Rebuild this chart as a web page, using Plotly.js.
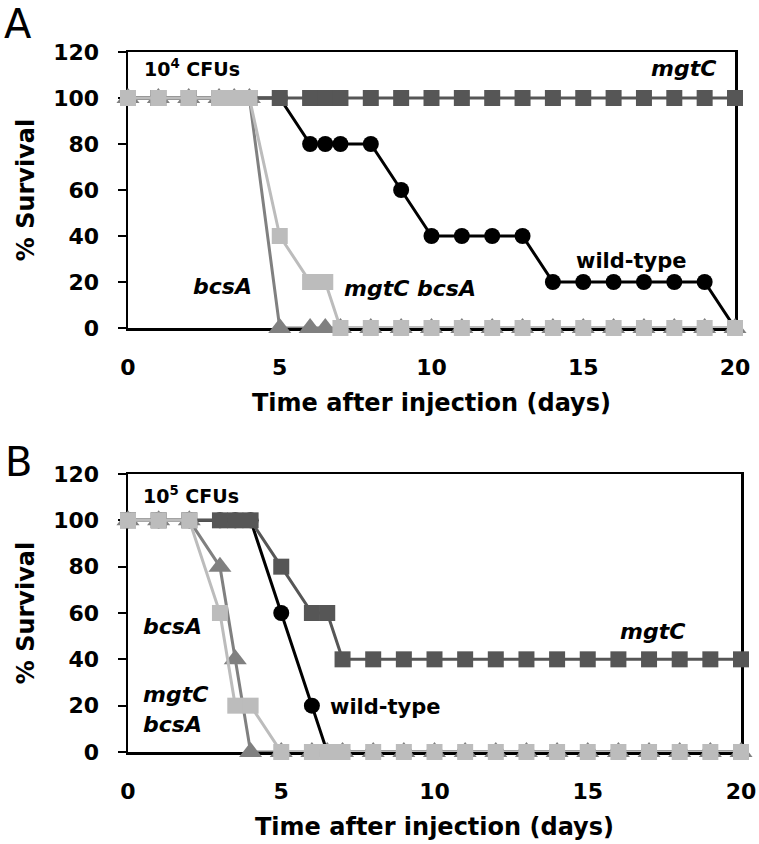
<!DOCTYPE html>
<html>
<head>
<meta charset="utf-8">
<script src="https://cdn.plot.ly/plotly-3.0.1.min.js"></script>
<style>html,body{margin:0;padding:0;background:#fff;}#chart{width:759px;height:844px;}</style>
</head>
<body>
<div id="chart"></div>
<script>
// ---------- DATA ----------
// Panel A (10^4 CFUs)
const daysA = [0,1,2,3,3.5,4,5,6,6.5,7,8,9,10,11,12,13,14,15,16,17,18,19,20];
const wildTypeA  = [100,100,100,100,100,100,100,80,80,80,80,60,40,40,40,40,20,20,20,20,20,20,0];
const mgtCA      = [100,100,100,100,100,100,100,100,100,100,100,100,100,100,100,100,100,100,100,100,100,100,100];
const bcsAA      = [100,100,100,100,100,100,0,0,0,0,0,0,0,0,0,0,0,0,0,0,0,0,0];
const mgtCbcsAA  = [100,100,100,100,100,100,40,20,20,0,0,0,0,0,0,0,0,0,0,0,0,0,0];
// Panel B (10^5 CFUs)
const daysB = [0,1,2,3,3.5,4,5,6,6.5,7,8,9,10,11,12,13,14,15,16,17,18,19,20];
const wildTypeB  = [100,100,100,100,100,100,60,20,0,0,0,0,0,0,0,0,0,0,0,0,0,0,0];
const mgtCB      = [100,100,100,100,100,100,80,60,60,40,40,40,40,40,40,40,40,40,40,40,40,40,40];
const bcsAB      = [100,100,100,80,40,0,0,0,0,0,0,0,0,0,0,0,0,0,0,0,0,0,0];
const mgtCbcsAB  = [100,100,100,60,20,20,0,0,0,0,0,0,0,0,0,0,0,0,0,0,0,0,0];

const xTicks = [0,5,10,15,20];
const yTicks = [0,20,40,60,80,100,120];

// ---------- STYLE ----------
const FONT = 'DejaVu Sans, Liberation Sans, Arial, sans-serif';
const C_WT = '#000000', C_MGTC = '#565656', C_BCSA = '#808080', C_DBL = '#bcbcbc';

function tr(x, y, color, symbol, size, xa, ya, name) {
  return {
    type: 'scatter', mode: 'lines+markers', x: x, y: y, name: name,
    xaxis: xa, yaxis: ya, cliponaxis: false, showlegend: false,
    line: {color: color, width: 3},
    marker: {color: color, symbol: symbol, size: size, line: {width: 0}}
  };
}

const data = [
  tr(daysA, wildTypeA, C_WT, 'circle', 16, 'x', 'y', 'wild-type'),
  tr(daysA, mgtCA, C_MGTC, 'square', 16, 'x', 'y', 'mgtC'),
  tr(daysA, bcsAA, C_BCSA, 'triangle-up', 20, 'x', 'y', 'bcsA'),
  tr(daysA, mgtCbcsAA, C_DBL, 'square', 16, 'x', 'y', 'mgtC bcsA'),
  tr(daysB, wildTypeB, C_WT, 'circle', 16, 'x2', 'y2', 'wild-type'),
  tr(daysB, mgtCB, C_MGTC, 'square', 16, 'x2', 'y2', 'mgtC'),
  tr(daysB, bcsAB, C_BCSA, 'triangle-up', 20, 'x2', 'y2', 'bcsA'),
  tr(daysB, mgtCbcsAB, C_DBL, 'square', 16, 'x2', 'y2', 'mgtC bcsA')
];

function xaxisDef(dom, anchor) {
  return {
    domain: dom, anchor: anchor, range: [0, 20], tickvals: xTicks,
    ticktext: xTicks.map(v => '<b>' + v + '</b>'),
    ticks: '', showgrid: false, zeroline: false, showline: true, mirror: true,
    linecolor: '#000', linewidth: 2.5, automargin: false, ticklabelstandoff: 18,
    layer: 'below traces',
    tickfont: {family: FONT, size: 22, color: '#000'},
    title: {text: '<b>Time after injection (days)</b>', standoff: 16,
            font: {family: FONT, size: 24, color: '#000'}}
  };
}
function yaxisDef(dom, anchor) {
  return {
    domain: dom, anchor: anchor, range: [0, 120], tickvals: yTicks,
    ticktext: yTicks.map(v => '<b>' + v + '</b>'),
    ticks: 'outside', ticklen: 8, tickwidth: 2, tickcolor: '#000',
    showgrid: false, zeroline: false, showline: true, mirror: true,
    linecolor: '#000', linewidth: 2.5, automargin: false, ticklabelstandoff: 14,
    layer: 'below traces',
    tickfont: {family: FONT, size: 22, color: '#000'},
    title: {text: '<b>% Survival</b>', standoff: 12,
            font: {family: FONT, size: 24, color: '#000'}}
  };
}

const W = 759, H = 844;
function ann(text, x, y, xref, yref, size, opts) {
  return Object.assign({
    text: text, x: x, y: y, xref: xref, yref: yref, showarrow: false,
    xanchor: 'center', yanchor: 'middle',
    font: {family: FONT, size: size, color: '#000'}
  }, opts || {});
}

const annotations = [
  ann('A', 18 / W, 1 - 24 / H, 'paper', 'paper', 40),
  ann('B', 18 / W, 1 - 462 / H, 'paper', 'paper', 40),
  // Panel A labels
  ann('<b>10<sup>4</sup> CFUs</b>', 0.45, 113, 'x', 'y', 19, {xanchor: 'left'}),
  ann('<b><i>mgtC</i></b>', 18.3, 113, 'x', 'y', 22),
  ann('<b>wild-type</b>', 16.6, 29, 'x', 'y', 21),
  ann('<b><i>bcsA</i></b>', 3.1, 18, 'x', 'y', 22),
  ann('<b><i>mgtC bcsA</i></b>', 9.3, 17, 'x', 'y', 22),
  // Panel B labels
  ann('<b>10<sup>5</sup> CFUs</b>', 0.43, 111, 'x2', 'y2', 19, {xanchor: 'left'}),
  ann('<b><i>bcsA</i></b>', 0.43, 54, 'x2', 'y2', 22, {xanchor: 'left'}),
  ann('<b><i>mgtC</i></b>', 0.43, 24.7, 'x2', 'y2', 22, {xanchor: 'left'}),
  ann('<b><i>bcsA</i></b>', 0.43, 11.7, 'x2', 'y2', 22, {xanchor: 'left'}),
  ann('<b>wild-type</b>', 8.4, 19.5, 'x2', 'y2', 21),
  ann('<b><i>mgtC</i></b>', 17.1, 52, 'x2', 'y2', 22)
];

const layout = {
  width: W, height: H,
  margin: {l: 0, r: 0, t: 0, b: 0},
  paper_bgcolor: '#fff', plot_bgcolor: '#fff',
  showlegend: false,
  xaxis: xaxisDef([128 / W, 735 / W], 'y'),
  yaxis: yaxisDef([1 - 328 / H, 1 - 52 / H], 'x'),
  xaxis2: xaxisDef([128 / W, 741 / W], 'y2'),
  yaxis2: yaxisDef([1 - 752 / H, 1 - 474 / H], 'x2'),
  annotations: annotations
};

Plotly.newPlot('chart', data, layout, {displayModeBar: false, staticPlot: true});
</script>
</body>
</html>
